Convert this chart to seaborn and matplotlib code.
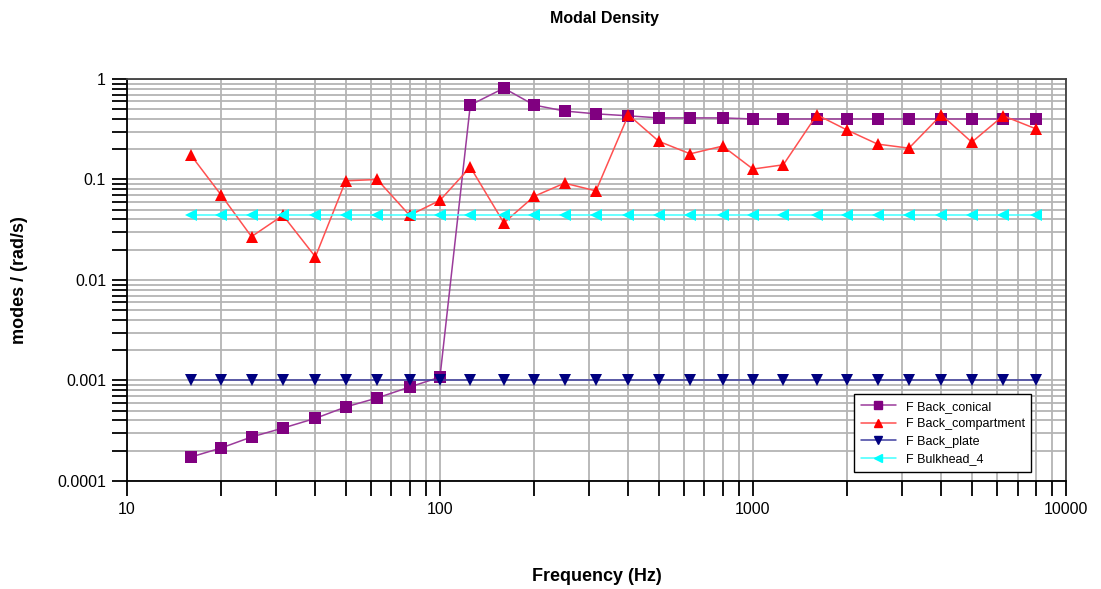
import numpy as np
import pandas as pd
import matplotlib
matplotlib.use("Agg")
import matplotlib.pyplot as plt
import seaborn as sns
from matplotlib.ticker import LogLocator, FixedLocator, NullFormatter, FixedFormatter
from matplotlib.lines import Line2D

freq = [16, 20, 25, 31.5, 40, 50, 63, 80, 100, 125, 160, 200, 250, 315, 400,
        500, 630, 800, 1000, 1250, 1600, 2000, 2500, 3150, 4000, 5000, 6300, 8000]
back_conical = [0.000173, 0.000213, 0.000274, 0.000336, 0.00042, 0.000545, 0.00067,
                0.00086, 0.00108, 0.55, 0.81, 0.55, 0.48, 0.45, 0.43, 0.41, 0.41,
                0.41, 0.40, 0.40, 0.40, 0.40, 0.40, 0.40, 0.40, 0.40, 0.40, 0.40]
back_compartment = [0.175, 0.070, 0.027, 0.044, 0.017, 0.097, 0.100, 0.044, 0.062,
                    0.133, 0.037, 0.068, 0.092, 0.077, 0.44, 0.24, 0.18, 0.215,
                    0.127, 0.14, 0.44, 0.31, 0.225, 0.205, 0.44, 0.235, 0.43, 0.32]
back_plate = [0.001] * len(freq)
bulkhead_4 = [0.044] * len(freq)

series_names = ["F Back_conical", "F Back_compartment", "F Back_plate", "F Bulkhead_4"]
series_values = [back_conical, back_compartment, back_plate, bulkhead_4]
colors = ["#800080", "#ff0000", "#000080", "#00ffff"]
line_colors = ["#9b3b9b", "#ff5050", "#4040a0", "#40ffff"]
markers = ["s", "^", "v", "<"]

y_ticks = [1, 0.1, 0.01, 0.001, 0.0001]
y_tick_labels = ["1", "0.1", "0.01", "0.001", "0.0001"]
x_ticks = [10, 100, 1000, 10000]
x_tick_labels = ["10", "100", "1000", "10000"]

df = pd.DataFrame({
    "Frequency": np.tile(freq, len(series_names)),
    "value": np.concatenate(series_values),
    "series": np.repeat(series_names, len(freq)),
})

sns.set_style("white")
plt.rcParams["font.family"] = ["Liberation Sans", "DejaVu Sans"]
plt.rcParams["text.color"] = "black"
plt.rcParams["axes.labelcolor"] = "black"
plt.rcParams["xtick.color"] = "black"
plt.rcParams["ytick.color"] = "black"

fig = plt.figure(figsize=(11.01, 5.89), dpi=100)
ax = fig.add_axes([0.1153, 0.1834, 0.9682 - 0.1153, 0.8659 - 0.1834])

sns.lineplot(data=df, x="Frequency", y="value", hue="series", style="series",
             palette=dict(zip(series_names, line_colors)),
             markers=dict(zip(series_names, markers)), dashes=False,
             linewidth=1.1, markersize=8, markeredgewidth=0,
             legend=False, ax=ax, zorder=3)

for line, c in zip(ax.get_lines(), colors):
    line.set_markerfacecolor(c)
    line.set_markeredgecolor(c)

ax.set_xscale("log")
ax.set_yscale("log")
ax.set_xlim(10, 10000)
ax.set_ylim(0.0001, 1)

ax.xaxis.set_major_locator(FixedLocator(x_ticks))
ax.xaxis.set_major_formatter(FixedFormatter(x_tick_labels))
ax.xaxis.set_minor_locator(LogLocator(base=10, subs=np.arange(2, 10)))
ax.xaxis.set_minor_formatter(NullFormatter())
ax.yaxis.set_major_locator(FixedLocator(y_ticks))
ax.yaxis.set_major_formatter(FixedFormatter(y_tick_labels))
ax.yaxis.set_minor_locator(LogLocator(base=10, subs=np.arange(2, 10)))
ax.yaxis.set_minor_formatter(NullFormatter())

ax.grid(True, which="both", color="#b4b4b4", linewidth=1.3, zorder=0)
ax.set_axisbelow(True)
ax.tick_params(axis="both", which="both", direction="out", length=11, width=1.3,
               color="black", labelcolor="black", bottom=True, left=True,
               labelsize=11.5, pad=4)
for s in ["left", "bottom"]:
    ax.spines[s].set_color("black")
    ax.spines[s].set_linewidth(1.3)
for s in ["top", "right"]:
    ax.spines[s].set_color("#404040")
    ax.spines[s].set_linewidth(1.3)

ax.set_xlabel("Frequency (Hz)", fontsize=13, fontweight="bold", labelpad=37, color="black")
ax.set_ylabel("modes / (rad/s)", fontsize=13, fontweight="bold", labelpad=21, color="black")
fig.text(0.549, 0.968, "Modal Density", ha="center", va="center",
         fontsize=11.5, fontweight="bold", color="black")

handles = [Line2D([0], [0], color=lc, marker=m, markerfacecolor=c, markeredgecolor=c,
                  markersize=6, linewidth=1.1)
           for lc, c, m in zip(line_colors, colors, markers)]
leg = ax.legend(handles, series_names, loc="lower left",
                bbox_to_anchor=(0.768, 0.0075), fontsize=9, frameon=True,
                fancybox=False, edgecolor="black", framealpha=1,
                handlelength=2.8, borderpad=0.5, labelspacing=0.45)
leg.get_frame().set_linewidth(1.0)
for t in leg.get_texts():
    t.set_color("black")

fig.savefig("out.png", dpi=100)
